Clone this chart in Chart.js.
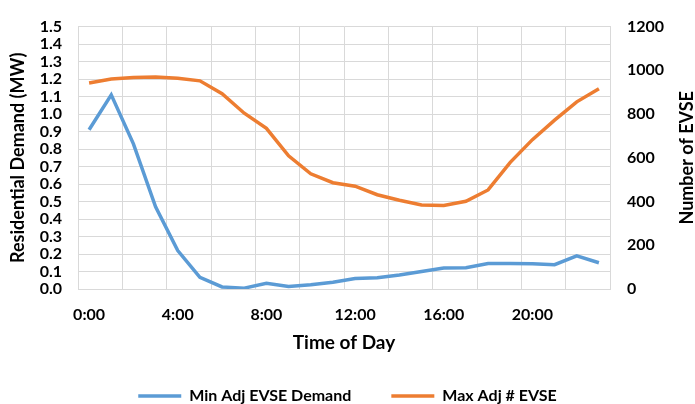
<!DOCTYPE html>
<html lang="en">
<head>
  <meta charset="UTF-8">
  <title>Residential Demand</title>
  <script src="https://cdn.jsdelivr.net/npm/chart.js@4.4.1/dist/chart.umd.min.js"></script>
  <style>
    html, body { margin: 0; padding: 0; background: #fff; }
    .box { width: 695px; height: 404px; }
  </style>
</head>
<body>
  <div class="box"><canvas id="myChart"></canvas></div>

<script type="text/javascript">
// hora do dia (0:00 .. 23:00)
const hours = ['0:00','1:00','2:00','3:00','4:00','5:00','6:00','7:00','8:00','9:00','10:00','11:00',
  '12:00','13:00','14:00','15:00','16:00','17:00','18:00','19:00','20:00','21:00','22:00','23:00'];

// Min Adj EVSE Demand (MW)
const minDemand = [0.91, 1.11, 0.83, 0.47, 0.22, 0.067, 0.012, 0.005, 0.033, 0.015, 0.024, 0.039,
  0.06, 0.065, 0.08, 0.10, 0.12, 0.122, 0.146, 0.146, 0.145, 0.139, 0.19, 0.15];

// Max Adj # EVSE
const maxEvse = [942, 960, 967, 969, 964, 952, 893, 804, 735, 609, 527, 486,
  470, 431, 406, 384, 382, 401, 453, 579, 683, 772, 856, 916];

const gridColor = '#d9d9d9';
const fontFam = 'Lato, "Open Sans", sans-serif';

// titulo do eixo direito, lido de baixo pra cima como no original
const rightTitle = {
  id: 'rightTitle',
  afterDraw(chart) {
    const { ctx, chartArea } = chart;
    ctx.save();
    ctx.translate(687, (chartArea.top + chartArea.bottom) / 2);
    ctx.rotate(-Math.PI / 2);
    ctx.font = 'bold 18px ' + fontFam;
    ctx.fillStyle = '#000';
    ctx.textAlign = 'center';
    ctx.textBaseline = 'middle';
    ctx.fillText('Number of EVSE', 0, 0);
    ctx.restore();
  }
};

const data = {
  labels: hours,
  datasets: [
    {
      label: 'Min Adj EVSE Demand',
      data: minDemand,
      yAxisID: 'y',
      borderColor: '#5B9BD5',
      backgroundColor: '#5B9BD5',
      borderWidth: 3.5,
      pointRadius: 0,
      tension: 0
    },
    {
      label: 'Max Adj # EVSE',
      data: maxEvse,
      yAxisID: 'y1',
      borderColor: '#ED7D31',
      backgroundColor: '#ED7D31',
      borderWidth: 3.5,
      pointRadius: 0,
      tension: 0
    }
  ]
};

const config = {
  type: 'line',
  data: data,
  plugins: [rightTitle],
  options: {
    responsive: false,
    animation: false,
    layout: { padding: { top: 17, left: 0, right: 0, bottom: -10 } },
    plugins: {
      tooltip: { enabled: false },
      legend: {
        position: 'bottom',
        labels: {
          usePointStyle: true,
          pointStyle: 'line',
          pointStyleWidth: 43,
          color: '#000',
          font: { family: fontFam, size: 16, weight: 'bold' },
          padding: 40
        }
      }
    },
    scales: {
      x: {
        offset: true,
        grid: {
          offset: true,
          drawTicks: false,
          color: c => (c.index === undefined || c.index % 2 === 0) ? gridColor : 'transparent'
        },
        border: { color: gridColor },
        ticks: {
          autoSkip: false,
          maxRotation: 0,
          padding: 16,
          color: '#000',
          font: { family: fontFam, size: 16, weight: 'bold' },
          callback: function(v, i) { return i % 4 === 0 ? hours[i] : ''; }
        },
        title: {
          display: true,
          text: 'Time of Day',
          color: '#000',
          font: { family: fontFam, size: 19, weight: 'bold' },
          padding: { top: 0, bottom: -6 }
        },
        afterFit: s => { s.height = 59; }
      },
      y: {
        position: 'left',
        min: 0,
        max: 1.5,
        grid: { color: gridColor, drawTicks: false },
        border: { color: gridColor },
        ticks: {
          stepSize: 0.1,
          autoSkip: false,
          padding: 16,
          color: '#000',
          font: { family: fontFam, size: 16, weight: 'bold' },
          callback: v => v.toFixed(1)
        },
        title: {
          display: true,
          text: 'Residential Demand (MW)',
          color: '#000',
          font: { family: fontFam, size: 18, weight: 'bold' },
          padding: { top: 7 }
        },
        afterFit: s => { s.width = 78; }
      },
      y1: {
        position: 'right',
        min: 0,
        max: 1200,
        grid: { drawOnChartArea: false, drawTicks: false },
        border: { color: gridColor },
        ticks: {
          stepSize: 200,
          autoSkip: false,
          padding: 17,
          color: '#000',
          font: { family: fontFam, size: 16, weight: 'bold' },
          callback: v => String(v)
        },
        afterFit: s => { s.width = 85; }
      }
    }
  }
};

const canvas = document.getElementById('myChart');
canvas.width = 695;
canvas.height = 404;
const myChart = new Chart(canvas, config);
</script>
</body>
</html>
